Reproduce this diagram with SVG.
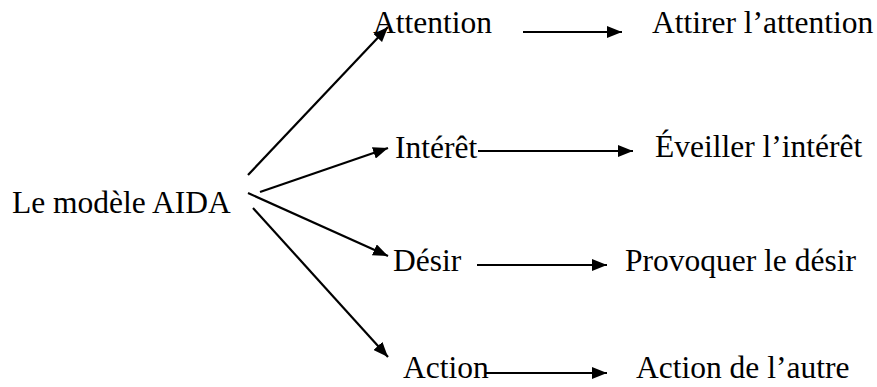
<svg xmlns="http://www.w3.org/2000/svg" width="877" height="387" viewBox="0 0 877 387">
  <style>
    .lbl { font-family: "Liberation Serif", "Times New Roman", serif; font-size: 31.5px; fill: #000; }
    .edge { stroke: #000; stroke-width: 2.2; fill: none; marker-end: url(#arrow); }
  </style>
  <defs>
    <marker id="arrow" markerUnits="userSpaceOnUse" viewBox="0 0 15 12" refX="15" refY="6" markerWidth="15" markerHeight="12" orient="auto">
      <path d="M0,0 L15,6 L0,12 Z" fill="#000"/>
    </marker>
  </defs>
  <rect width="877" height="387" fill="#fff"/>

  <!-- connectors: root to the four stages, then each stage to its goal -->
  <g id="edges">
    <line class="edge" x1="248" y1="175" x2="388" y2="27"/>
    <line class="edge" x1="260" y1="192" x2="388" y2="148"/>
    <line class="edge" x1="248" y1="193" x2="388" y2="256"/>
    <line class="edge" x1="253" y1="208" x2="388" y2="357"/>
    <line class="edge" x1="523" y1="32" x2="622" y2="32"/>
    <line class="edge" x1="478" y1="151" x2="633" y2="151"/>
    <line class="edge" x1="477" y1="265" x2="607" y2="265"/>
    <line class="edge" x1="485" y1="373" x2="607" y2="373"/>
  </g>

  <g id="aida"><text class="lbl" x="12" y="213">Le modèle AIDA</text></g>
  <g id="attention"><text class="lbl" x="373" y="33">Attention</text></g>
  <g id="interet"><text class="lbl" x="395" y="158">Intérêt</text></g>
  <g id="desir"><text class="lbl" x="393" y="271">Désir</text></g>
  <g id="action"><text class="lbl" x="403" y="378">Action</text></g>
  <g id="attirer"><text class="lbl" x="652" y="33">Attirer l’attention</text></g>
  <g id="eveiller"><text class="lbl" x="655" y="157">Éveiller l’intérêt</text></g>
  <g id="provoquer"><text class="lbl" x="625" y="271">Provoquer le désir</text></g>
  <g id="autre"><text class="lbl" x="636" y="378">Action de l’autre</text></g>
</svg>
